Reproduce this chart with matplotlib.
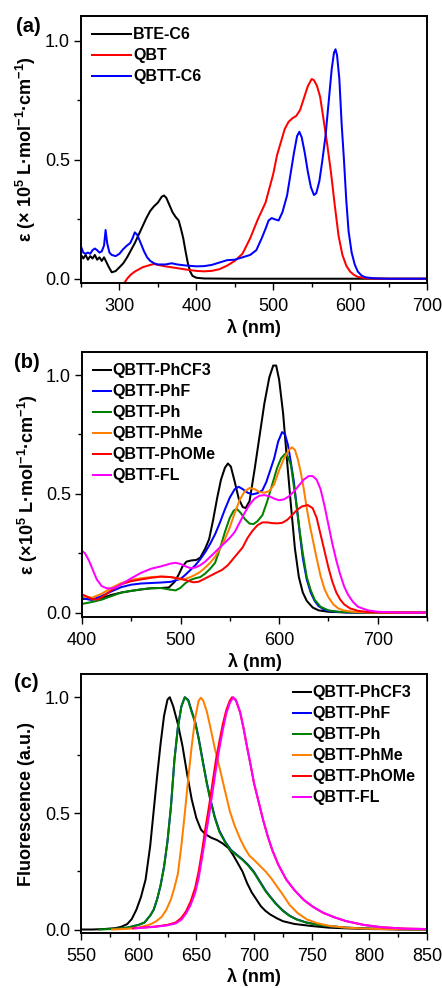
import matplotlib
matplotlib.use("Agg")
import matplotlib.pyplot as plt
from matplotlib.ticker import MultipleLocator

plt.rcParams['font.family'] = ['Liberation Sans', 'DejaVu Sans']
plt.rcParams['mathtext.fontset'] = 'custom'
plt.rcParams['mathtext.rm'] = 'Liberation Sans'
plt.rcParams['mathtext.bf'] = 'Liberation Sans:bold'
plt.rcParams['mathtext.default'] = 'bf'

# ---- panel (a): absorption of BTE-C6, QBT, QBTT-C6
bte_wl = [250, 253, 256, 259, 262, 265, 268, 271, 274, 277, 280, 283, 286, 290, 295, 300, 305, 310, 315,
          320, 325, 330, 335, 340, 345, 350, 355, 358, 361, 365, 369, 373, 377, 380, 383, 386, 389, 392, 395,
          400, 410, 450, 700]
bte_ab = [0.10, 0.085, 0.10, 0.08, 0.095, 0.085, 0.10, 0.08, 0.09, 0.075, 0.09, 0.07, 0.05, 0.027, 0.032,
          0.048, 0.065, 0.09, 0.12, 0.15, 0.185, 0.22, 0.255, 0.285, 0.305, 0.32, 0.345, 0.35, 0.34, 0.31,
          0.28, 0.26, 0.245, 0.21, 0.17, 0.115, 0.065, 0.03, 0.012, 0.004, 0.001, 0.0, 0.0]

qbt_wl = [304, 310, 315, 320, 330, 340, 345, 350, 360, 370, 380, 390, 400, 410, 420, 430, 440, 450, 460,
          470, 475, 480, 485, 490, 495, 500, 505, 510, 515, 520, 525, 530, 535, 540, 545, 550, 553, 557,
          561, 565, 570, 575, 580, 585, 590, 595, 600, 605, 610, 620, 640, 700]
qbt_ab = [-0.03, 0.0, 0.018, 0.03, 0.048, 0.058, 0.062, 0.058, 0.052, 0.047, 0.042, 0.037, 0.033, 0.031,
          0.033, 0.04, 0.055, 0.075, 0.105, 0.17, 0.21, 0.25, 0.285, 0.32, 0.38, 0.44, 0.52, 0.575, 0.63,
          0.66, 0.675, 0.685, 0.71, 0.76, 0.81, 0.84, 0.835, 0.81, 0.765, 0.68, 0.57, 0.45, 0.31, 0.18,
          0.10, 0.055, 0.03, 0.016, 0.008, 0.002, 0.0, 0.0]

qbttc6_wl = [250, 253, 256, 259, 262, 265, 268, 271, 274, 277, 280, 282, 284, 287, 290, 295, 300, 305, 310,
             314, 317, 320, 323, 327, 332, 336, 340, 345, 350, 360, 368, 375, 385, 400, 410, 420, 430, 440,
             450, 460, 470, 478, 485, 490, 494, 498, 502, 507, 512, 518, 523, 527, 531, 534, 537, 541, 545,
             549, 553, 556, 560, 564, 568, 572, 576, 579, 581, 583, 586, 589, 592, 595, 598, 602, 606, 610,
             615, 620, 630, 650, 700]
qbttc6_ab = [0.135, 0.11, 0.105, 0.11, 0.105, 0.12, 0.127, 0.12, 0.11, 0.115, 0.14, 0.205, 0.15, 0.11, 0.10,
             0.095, 0.105, 0.125, 0.14, 0.15, 0.17, 0.195, 0.185, 0.155, 0.115, 0.09, 0.075, 0.065, 0.06,
             0.06, 0.065, 0.06, 0.056, 0.052, 0.053, 0.058, 0.068, 0.078, 0.08, 0.09, 0.10, 0.12, 0.17,
             0.21, 0.245, 0.255, 0.25, 0.245, 0.28, 0.35, 0.45, 0.53, 0.60, 0.618, 0.595, 0.53, 0.45, 0.385,
             0.352, 0.36, 0.41, 0.50, 0.60, 0.74, 0.88, 0.95, 0.965, 0.94, 0.84, 0.65, 0.50, 0.33, 0.20,
             0.11, 0.06, 0.03, 0.013, 0.006, 0.002, 0.0, 0.0]

# ---- panel (b): absorption of QBTT derivatives
cf3_wl = [400, 410, 420, 430, 440, 450, 460, 470, 480, 488, 494, 498, 502, 506, 511, 516, 520, 525, 529, 533,
          537, 541, 545, 548, 551, 555, 559, 563, 566, 570, 575, 580, 585, 590, 594, 597, 600, 604, 608, 612,
          616, 620, 624, 628, 634, 640, 650, 670, 750]
cf3_ab = [0.06, 0.055, 0.062, 0.075, 0.085, 0.092, 0.098, 0.103, 0.104, 0.106, 0.13, 0.16, 0.195, 0.215,
          0.22, 0.222, 0.232, 0.27, 0.31, 0.39, 0.48, 0.56, 0.61, 0.628, 0.615, 0.55, 0.48, 0.445, 0.44, 0.47,
          0.60, 0.74, 0.88, 0.99, 1.04, 1.04, 0.98, 0.84, 0.64, 0.45, 0.27, 0.15, 0.085, 0.05, 0.022, 0.01,
          0.004, 0.001, 0.0]

phf_wl = [400, 410, 420, 430, 440, 450, 460, 470, 480, 490, 500, 505, 510, 515, 520, 525, 530, 535, 540, 545,
          550, 555, 559, 563, 568, 573, 578, 583, 587, 591, 595, 599, 603, 606, 609, 612, 615, 618, 621, 624,
          628, 632, 636, 640, 646, 652, 665, 690, 750]
phf_ab = [0.06, 0.055, 0.07, 0.09, 0.108, 0.118, 0.123, 0.125, 0.127, 0.13, 0.142, 0.16, 0.18, 0.20, 0.225,
          0.255, 0.29, 0.33, 0.38, 0.435, 0.485, 0.52, 0.53, 0.52, 0.505, 0.498, 0.503, 0.515, 0.55, 0.60,
          0.65, 0.72, 0.76, 0.75, 0.705, 0.63, 0.55, 0.44, 0.33, 0.23, 0.14, 0.085, 0.05, 0.028, 0.012,
          0.006, 0.002, 0.0, 0.0]

ph_wl = [400, 410, 420, 430, 440, 450, 460, 470, 480, 488, 495, 500, 505, 510, 515, 520, 525, 530, 535, 540,
         545, 550, 554, 557, 561, 565, 570, 574, 578, 583, 588, 593, 598, 602, 606, 609, 612, 615, 618, 621,
         624, 628, 632, 636, 642, 650, 660, 680, 750]
ph_ab = [0.037, 0.045, 0.055, 0.07, 0.085, 0.092, 0.098, 0.103, 0.104, 0.098, 0.094, 0.105, 0.125, 0.138,
         0.145, 0.15, 0.165, 0.185, 0.21, 0.27, 0.34, 0.40, 0.43, 0.437, 0.42, 0.395, 0.375, 0.373, 0.385,
         0.41, 0.47, 0.54, 0.61, 0.65, 0.668, 0.655, 0.62, 0.53, 0.44, 0.34, 0.25, 0.15, 0.095, 0.055, 0.025,
         0.01, 0.004, 0.001, 0.0]

phme_wl = [400, 410, 420, 430, 440, 450, 460, 470, 480, 490, 498, 503, 510, 515, 520, 525, 530, 535, 540, 545,
           550, 555, 560, 565, 570, 575, 580, 585, 590, 595, 600, 605, 610, 613, 616, 619, 622, 625, 628, 631,
           634, 638, 642, 646, 650, 655, 660, 665, 675, 690, 750]
phme_ab = [0.07, 0.063, 0.08, 0.105, 0.125, 0.138, 0.145, 0.15, 0.152, 0.15, 0.142, 0.14, 0.15, 0.16, 0.172,
           0.19, 0.21, 0.235, 0.27, 0.31, 0.36, 0.42, 0.475, 0.51, 0.525, 0.52, 0.508, 0.505, 0.512, 0.54,
           0.60, 0.65, 0.685, 0.696, 0.685, 0.645, 0.59, 0.52, 0.44, 0.37, 0.31, 0.23, 0.155, 0.10, 0.065,
           0.035, 0.018, 0.01, 0.004, 0.001, 0.0]

phome_wl = [400, 405, 410, 415, 420, 430, 440, 450, 460, 470, 480, 490, 500, 507, 513, 518, 523, 530, 537,
            542, 548, 555, 563, 568, 573, 578, 583, 588, 593, 598, 603, 608, 613, 618, 623, 629, 634, 638,
            642, 646, 650, 654, 658, 662, 666, 672, 680, 690, 710, 750]
phome_ab = [0.077, 0.068, 0.058, 0.055, 0.065, 0.095, 0.12, 0.133, 0.14, 0.147, 0.152, 0.15, 0.143, 0.135,
            0.128, 0.13, 0.14, 0.155, 0.17, 0.18, 0.20, 0.235, 0.275, 0.315, 0.345, 0.368, 0.38, 0.38, 0.377,
            0.376, 0.378, 0.39, 0.41, 0.432, 0.447, 0.453, 0.44, 0.40, 0.33, 0.26, 0.19, 0.13, 0.085, 0.055,
            0.035, 0.018, 0.008, 0.003, 0.001, 0.0]

fl_wl = [400, 403, 407, 411, 415, 420, 425, 430, 435, 440, 450, 460, 470, 480, 490, 495, 500, 505, 510, 515,
         520, 525, 530, 535, 540, 545, 550, 555, 560, 565, 570, 575, 580, 585, 590, 595, 600, 605, 610, 615,
         620, 625, 630, 634, 638, 642, 646, 650, 654, 658, 662, 666, 670, 675, 680, 690, 700, 720, 750]
fl_ab = [0.26, 0.25, 0.22, 0.18, 0.14, 0.112, 0.103, 0.102, 0.108, 0.12, 0.145, 0.168, 0.185, 0.195, 0.207,
         0.21, 0.205, 0.195, 0.188, 0.19, 0.20, 0.215, 0.235, 0.255, 0.275, 0.295, 0.315, 0.34, 0.38, 0.42,
         0.455, 0.48, 0.492, 0.495, 0.49, 0.48, 0.473, 0.477, 0.49, 0.51, 0.535, 0.56, 0.575, 0.575, 0.56,
         0.52, 0.45, 0.37, 0.29, 0.22, 0.16, 0.11, 0.075, 0.045, 0.025, 0.01, 0.004, 0.001, 0.0]

# ---- panel (c): normalised fluorescence
cf3_em_wl = [550, 560, 570, 580, 585, 590, 594, 598, 602, 606, 610, 613, 616, 619, 622, 625, 627, 630, 634, 638,
             642, 646, 650, 654, 658, 663, 668, 673, 678, 682, 686, 690, 694, 698, 702, 706, 710, 714, 720,
             725, 735, 750, 765, 780, 800, 850]
cf3_em = [0.0, 0.0, 0.002, 0.006, 0.012, 0.023, 0.045, 0.085, 0.14, 0.215, 0.36, 0.51, 0.66, 0.80, 0.92, 0.99,
          1.0, 0.96, 0.885, 0.79, 0.67, 0.56, 0.48, 0.43, 0.41, 0.395, 0.385, 0.37, 0.35, 0.32, 0.285, 0.25,
          0.20, 0.16, 0.13, 0.10, 0.08, 0.065, 0.048, 0.036, 0.024, 0.015, 0.008, 0.005, 0.002, 0.0]

phf_em_wl = [580, 590, 600, 605, 610, 613, 616, 619, 622, 625, 628, 631, 634, 637, 640, 643, 646, 649, 652,
             656, 659, 662, 666, 670, 675, 680, 685, 690, 695, 700, 705, 710, 714, 719, 725, 731, 737, 745,
             755, 766, 780, 800, 825, 850]
phf_em = [0.002, 0.008, 0.02, 0.03, 0.06, 0.085, 0.13, 0.19, 0.27, 0.38, 0.53, 0.73, 0.87, 0.96, 1.0,
          0.988, 0.94, 0.895, 0.825, 0.715, 0.635, 0.565, 0.485, 0.425, 0.378, 0.343, 0.322, 0.302, 0.278,
          0.248, 0.208, 0.168, 0.142, 0.112, 0.082, 0.059, 0.044, 0.031, 0.021, 0.014, 0.008, 0.004, 0.001,
          0.0]

ph_em_wl = [566, 580, 590, 600, 605, 610, 613, 616, 619, 622, 625, 628, 631, 634, 637, 640, 643, 646, 649,
            652, 656, 659, 662, 666, 670, 675, 680, 685, 690, 695, 700, 705, 710, 714, 719, 725, 731, 737,
            745, 755, 766, 780, 800, 825, 850]
ph_em = [0.0, 0.003, 0.008, 0.02, 0.03, 0.06, 0.085, 0.13, 0.19, 0.27, 0.38, 0.53, 0.73, 0.87, 0.96, 1.0,
         0.985, 0.935, 0.89, 0.82, 0.71, 0.63, 0.56, 0.48, 0.42, 0.375, 0.34, 0.32, 0.30, 0.275, 0.245, 0.205,
         0.165, 0.14, 0.11, 0.08, 0.058, 0.043, 0.03, 0.02, 0.014, 0.008, 0.004, 0.001, 0.0]

phme_em_wl = [577, 590, 600, 610, 615, 620, 624, 628, 631, 634, 637, 640, 643, 646, 649, 652, 654, 656, 659,
              662, 666, 670, 674, 679, 683, 688, 692, 696, 700, 705, 710, 715, 720, 725, 731, 738, 746, 755,
              766, 780, 795, 820, 850]
phme_em = [0.0, 0.003, 0.008, 0.022, 0.035, 0.055, 0.085, 0.13, 0.18, 0.24, 0.36, 0.50, 0.65, 0.79, 0.91,
           0.985, 0.998, 0.985, 0.94, 0.875, 0.78, 0.70, 0.615, 0.51, 0.45, 0.39, 0.35, 0.318, 0.30, 0.275,
           0.25, 0.22, 0.185, 0.15, 0.105, 0.07, 0.043, 0.027, 0.015, 0.008, 0.004, 0.001, 0.0]

phome_em_wl = [595, 605, 615, 625, 632, 637, 641, 645, 649, 652, 655, 658, 661, 664, 667, 670, 673, 676, 679,
               681, 684, 688, 691, 694, 697, 700, 704, 708, 712, 716, 721, 728, 735, 743, 751, 760, 770, 780,
               795, 810, 830, 850]
phome_em = [0.005, 0.009, 0.013, 0.02, 0.03, 0.05, 0.078, 0.12, 0.18, 0.25, 0.34, 0.44, 0.53, 0.63, 0.73,
            0.81, 0.885, 0.945, 0.985, 1.0, 0.99, 0.935, 0.865, 0.785, 0.71, 0.63, 0.55, 0.47, 0.40, 0.34,
            0.28, 0.215, 0.17, 0.128, 0.098, 0.072, 0.052, 0.036, 0.02, 0.01, 0.004, 0.002]

fl_em_wl = [597, 605, 615, 625, 632, 637, 641, 645, 649, 652, 655, 658, 661, 664, 667, 670, 673, 676, 679,
            682, 685, 688, 691, 694, 697, 700, 704, 708, 712, 716, 721, 728, 735, 743, 751, 760, 770, 780,
            795, 810, 830, 850]
fl_em = [0.005, 0.008, 0.012, 0.018, 0.026, 0.042, 0.068, 0.105, 0.158, 0.22, 0.31, 0.40, 0.49, 0.59, 0.69,
         0.78, 0.86, 0.93, 0.975, 1.0, 0.98, 0.935, 0.865, 0.785, 0.71, 0.63, 0.55, 0.47, 0.40, 0.34, 0.28,
         0.215, 0.17, 0.128, 0.098, 0.072, 0.052, 0.036, 0.02, 0.01, 0.004, 0.002]

names_b = ['QBTT-PhCF3', 'QBTT-PhF', 'QBTT-Ph', 'QBTT-PhMe', 'QBTT-PhOMe', 'QBTT-FL']
colors_b = ['black', '#0000ff', '#008000', '#ff8000', '#ff0000', '#ff00ff']

fig = plt.figure(figsize=(4.42, 9.88), dpi=100)
W, H = 442.0, 988.0


def make_ax(left, top, right, bottom):
    return fig.add_axes([left / W, 1 - bottom / H, (right - left) / W, (bottom - top) / H])


def style(ax, xmaj, xmin):
    ax.xaxis.set_major_locator(MultipleLocator(xmaj))
    ax.xaxis.set_minor_locator(MultipleLocator(xmin))
    ax.yaxis.set_major_locator(MultipleLocator(0.5))
    ax.yaxis.set_minor_locator(MultipleLocator(0.25))
    ax.tick_params(which='both', direction='out', top=False, right=False, labelsize=13, width=1.0)
    ax.tick_params(which='major', length=5)
    ax.tick_params(which='minor', length=3)
    ax.tick_params(axis='x', pad=5.5)
    ax.tick_params(axis='y', pad=3)
    for s in ax.spines.values():
        s.set_linewidth(1.4)
    ax.set_xlabel('λ (nm)', fontsize=13, fontweight='bold')


lw = 1.45
leg_kw = dict(frameon=False, prop={'weight': 'bold', 'size': 11.5},
              labelspacing=0.375, borderaxespad=0.3)

# (a)
ax1 = make_ax(81, 16, 427, 283)
ax1.plot(bte_wl, bte_ab, color='black', lw=lw, label='BTE-C6')
ax1.plot(qbt_wl, qbt_ab, color='#ff0000', lw=lw, label='QBT')
ax1.plot(qbttc6_wl, qbttc6_ab, color='#0000ff', lw=lw, label='QBTT-C6')
ax1.set_xlim(250, 700)
ax1.set_ylim(-0.018, 1.105)
style(ax1, 100, 50)
ax1.set_ylabel('ε (× 10$^{5}$ L·mol$^{-1}$·cm$^{-1}$)', fontsize=13, fontweight='bold')
ax1.legend(loc='upper left', bbox_to_anchor=(0.0, 1.0), handlelength=2.4, handletextpad=0.15, **leg_kw)

# (b)
ax2 = make_ax(82, 352, 427, 617)
for wl, ab, n, c in zip([cf3_wl, phf_wl, ph_wl, phme_wl, phome_wl, fl_wl],
                        [cf3_ab, phf_ab, ph_ab, phme_ab, phome_ab, fl_ab], names_b, colors_b):
    ax2.plot(wl, ab, color=c, lw=lw, label=n)
ax2.set_xlim(400, 750)
ax2.set_ylim(-0.018, 1.097)
style(ax2, 100, 50)
ax2.set_ylabel('ε (×10$^{5}$ L·mol$^{-1}$·cm$^{-1}$)', fontsize=13, fontweight='bold')
ax2.legend(loc='upper left', bbox_to_anchor=(0.0, 1.0), handlelength=1.1, handletextpad=0.12, **leg_kw)

# (c)
ax3 = make_ax(81, 674, 427, 933)
for wl, em, n, c in zip([cf3_em_wl, phf_em_wl, ph_em_wl, phme_em_wl, phome_em_wl, fl_em_wl],
                        [cf3_em, phf_em, ph_em, phme_em, phome_em, fl_em], names_b, colors_b):
    ax3.plot(wl, em, color=c, lw=lw, label=n)
ax3.set_xlim(550, 850)
ax3.set_ylim(-0.015, 1.10)
style(ax3, 50, 25)
ax3.set_ylabel('Fluorescence (a.u.)', fontsize=13, fontweight='bold')
ax3.legend(loc='upper right', bbox_to_anchor=(1.0, 1.0), handlelength=1.1, handletextpad=0.12, **leg_kw)

for ax, yl in [(ax1, -0.124), (ax2, -0.121), (ax3, -0.133)]:
    ax.yaxis.set_label_coords(yl, 0.5)
    ax.xaxis.set_label_coords(0.5, -0.135)

fig.text(16 / W, 1 - 27 / H, '(a)', fontsize=14.5, fontweight='bold', va='center')
fig.text(14 / W, 1 - 362 / H, '(b)', fontsize=14.5, fontweight='bold', va='center')
fig.text(14 / W, 1 - 683 / H, '(c)', fontsize=14.5, fontweight='bold', va='center')

fig.savefig('out.png', dpi=100)
